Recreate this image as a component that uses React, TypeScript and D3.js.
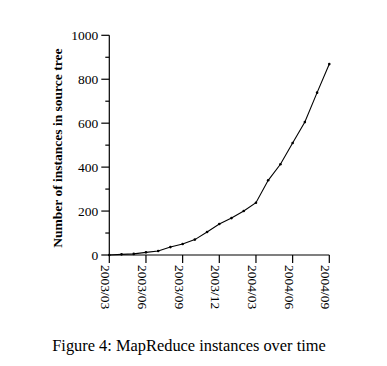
import React from "react";
import * as d3 from "d3";

const months = [
  "2003/03", "2003/04", "2003/05", "2003/06", "2003/07", "2003/08", "2003/09",
  "2003/10", "2003/11", "2003/12", "2004/01", "2004/02", "2004/03", "2004/04",
  "2004/05", "2004/06", "2004/07", "2004/08", "2004/09",
];
const instances = [0, 3, 5, 12, 18, 36, 50, 70, 105, 141, 168, 200, 238, 340, 413, 510, 605, 739, 869];
const xTickLabels = ["2003/03", "2003/06", "2003/09", "2003/12", "2004/03", "2004/06", "2004/09"];
const yTicks = [0, 200, 400, 600, 800, 1000];
const yMinorTicks = [100, 300, 500, 700, 900];

const yLabel = "Number of instances in source tree";
const caption = "Figure 4: MapReduce instances over time";

export default function App() {
  const W = 387, H = 366;
  const x = d3.scaleLinear().domain([0, months.length - 1]).range([109.3, 329.3]);
  const y = d3.scaleLinear().domain([0, 1000]).range([255, 35.3]);
  const line = d3
    .line<number>()
    .x((_, i) => x(i))
    .y((d) => y(d));
  const font = "'Liberation Serif', 'Times New Roman', serif";
  return (
    <svg
      width={W}
      height={H}
      style={{ position: "absolute", left: 0, top: 0, background: "#fff" }}
      fontFamily={font}
    >
      <rect x={0} y={0} width={W} height={H} fill="#fff" />
      <line x1={x(0)} x2={x(0)} y1={y(0)} y2={y(1000)} stroke="#000" strokeWidth={1.2} />
      <line x1={x(0)} x2={x(months.length - 1)} y1={y(0)} y2={y(0)} stroke="#000" strokeWidth={1.2} />
      {yTicks.map((t) => (
        <g key={t}>
          <line x1={x(0) - 8} x2={x(0)} y1={y(t)} y2={y(t)} stroke="#000" strokeWidth={1.2} />
          <text x={x(0) - 11} y={y(t)} textAnchor="end" dominantBaseline="central" fontSize={13.5} fill="#000">
            {t}
          </text>
        </g>
      ))}
      {yMinorTicks.map((t) => (
        <line key={t} x1={x(0) - 4} x2={x(0)} y1={y(t)} y2={y(t)} stroke="#000" strokeWidth={1.2} />
      ))}
      {xTickLabels.map((lab) => {
        const i = months.indexOf(lab);
        const px = x(i);
        return (
          <g key={lab}>
            <line x1={px} x2={px} y1={y(0)} y2={y(0) + 8} stroke="#000" strokeWidth={1.2} />
            <text
              transform={`translate(${px - 3.5},${y(0) + 10}) rotate(90)`}
              textAnchor="start"
              dominantBaseline="central"
              fontSize={13.5}
              fill="#000"
            >
              {lab}
            </text>
          </g>
        );
      })}
      <text
        transform={`translate(57,${(y(0) + y(1000)) / 2 + 3}) rotate(-90)`}
        textAnchor="middle"
        dominantBaseline="central"
        fontSize={13.5}
        fontWeight="bold"
        fill="#000"
      >
        {yLabel}
      </text>
      <path d={line(instances) || ""} fill="none" stroke="#000" strokeWidth={1.1} />
      {instances.map((v, i) => (
        <circle key={i} cx={x(i)} cy={y(v)} r={1.3} fill="#000" />
      ))}
      <text x={189} y={345} textAnchor="middle" dominantBaseline="central" fontSize={16.4} fill="#000">
        {caption}
      </text>
    </svg>
  );
}
